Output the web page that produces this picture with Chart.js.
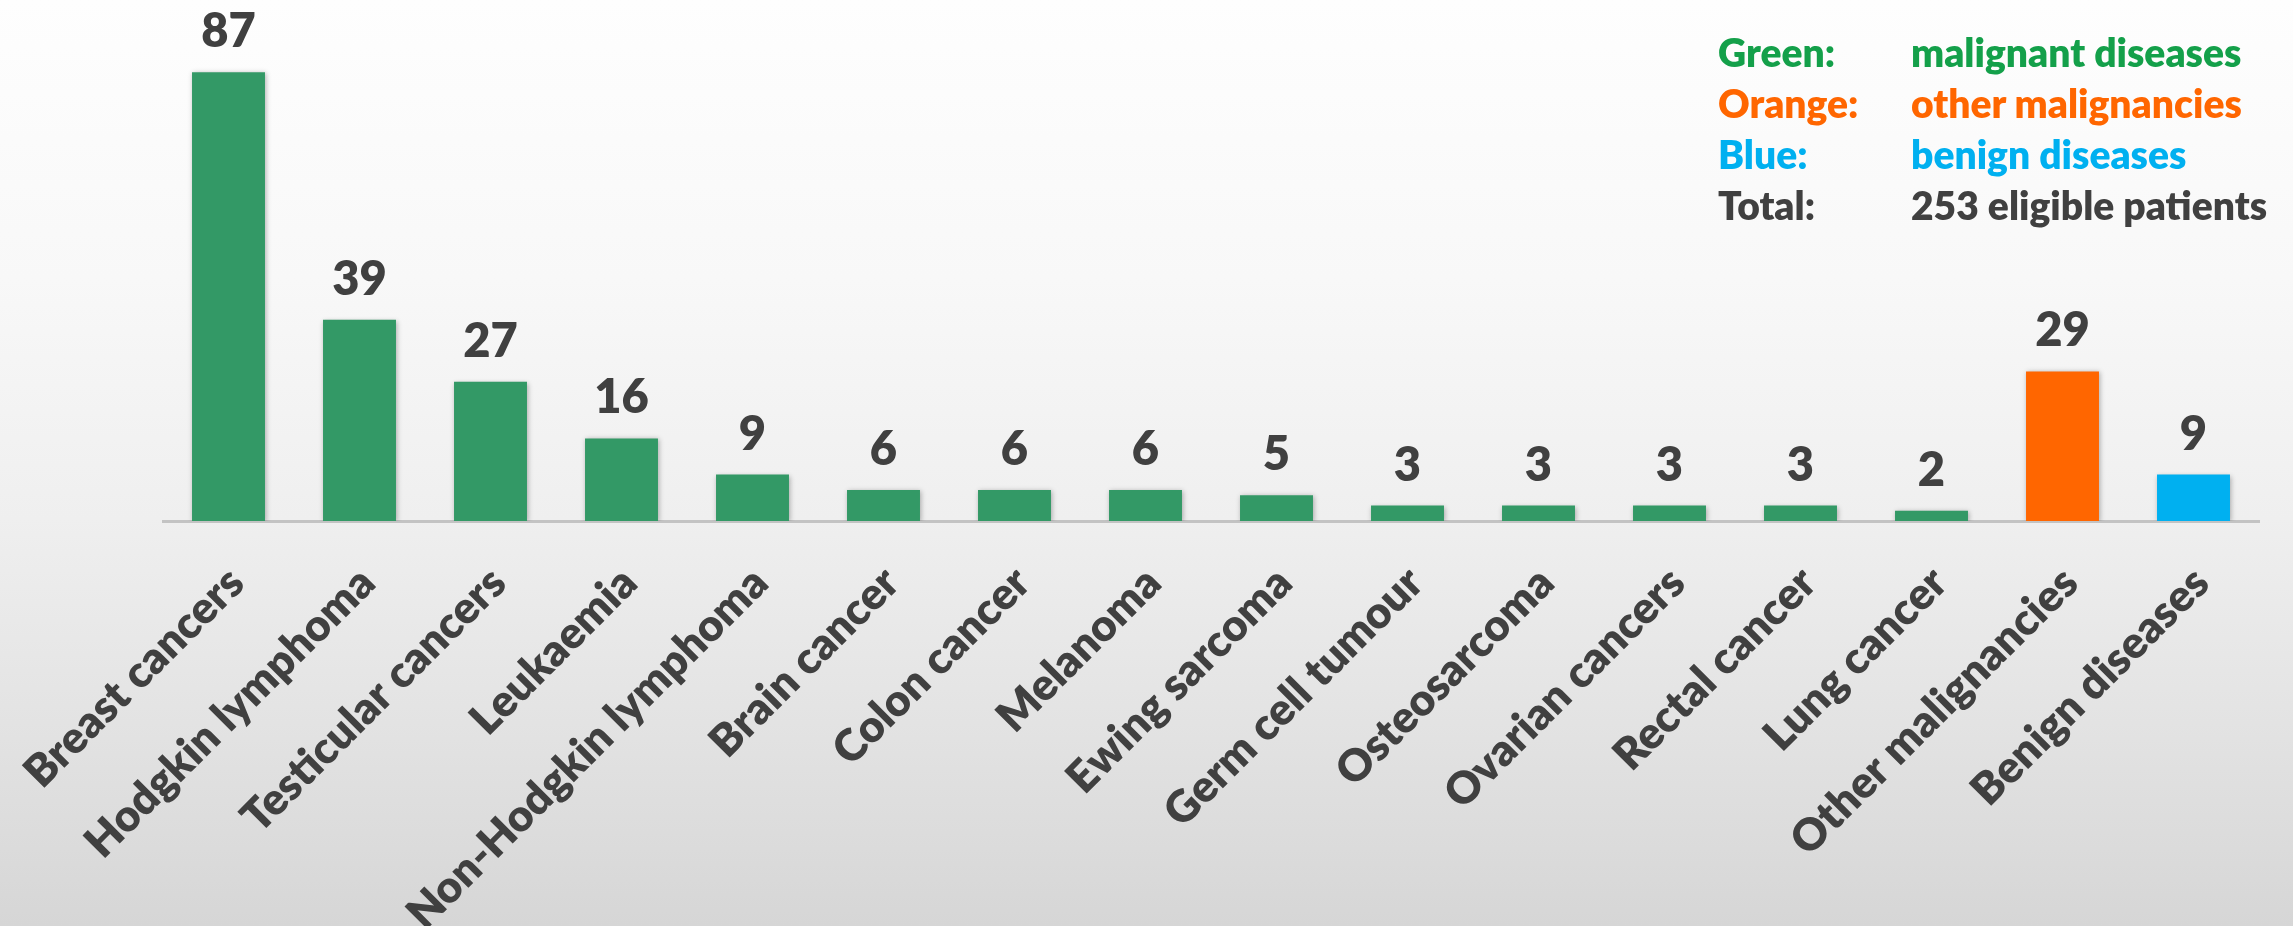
<!DOCTYPE html>
<html lang="en">
<head>
    <meta charset="UTF-8">
    <meta name="viewport" content="width=device-width, initial-scale=1.0">
    <title>Eligible patients by diagnosis</title>
    <script src="https://cdn.jsdelivr.net/npm/chart.js"></script>
    <style>
        html, body { margin: 0; padding: 0; }
        body {
            width: 2293px;
            height: 926px;
            overflow: hidden;
            position: relative;
            font-family: Lato, "Open Sans", sans-serif;
            background: linear-gradient(to bottom, #fefefe 0%, #f8f8f8 30%, #efefef 56%, #e3e3e3 78%, #d6d6d6 100%);
        }
        #chart-container { position: absolute; left: 0; top: 0; width: 2293px; height: 926px; }
        .key { position: absolute; left: 1718px; top: 27px; font-weight: 800; font-size: 39px; line-height: 51px; }
        .key .name { display: inline-block; width: 193px; }
        .green { color: #14a04a; }
        .orange { color: #ff6600; }
        .blue { color: #00b0f0; }
        .total { color: #404040; }
    </style>
</head>
<body>
    <div id="chart-container">
        <canvas id="diagnosisChart" width="2293" height="926"></canvas>
    </div>

    <div class="key">
        <div class="green"><span class="name">Green:</span>malignant diseases</div>
        <div class="orange"><span class="name">Orange:</span>other malignancies</div>
        <div class="blue"><span class="name">Blue:</span>benign diseases</div>
        <div class="total"><span class="name">Total:</span>253 eligible patients</div>
    </div>

    <script>
        // Diagnoses and patient counts
        const categories = [
            "Breast cancers", "Hodgkin lymphoma", "Testicular cancers", "Leukaemia",
            "Non-Hodgkin lymphoma", "Brain cancer", "Colon cancer", "Melanoma",
            "Ewing sarcoma", "Germ cell tumour", "Osteosarcoma", "Ovarian cancers",
            "Rectal cancer", "Lung cancer", "Other malignancies", "Benign diseases"
        ];
        const patients = [87, 39, 27, 16, 9, 6, 6, 6, 5, 3, 3, 3, 3, 2, 29, 9];
        const groups = [
            "malignant", "malignant", "malignant", "malignant", "malignant", "malignant", "malignant",
            "malignant", "malignant", "malignant", "malignant", "malignant", "malignant", "malignant",
            "other", "benign"
        ];

        const groupColours = { malignant: "#339966", other: "#ff6600", benign: "#00b0f0" };
        const textColour = "#404040";

        // soft shadow behind the bars
        const barShadow = {
            id: "barShadow",
            beforeDatasetsDraw(chart) {
                const ctx = chart.ctx;
                ctx.save();
                ctx.shadowColor = "rgba(0, 0, 0, 0.3)";
                ctx.shadowBlur = 5;
                ctx.shadowOffsetX = 1;
                ctx.shadowOffsetY = 1;
            },
            afterDatasetsDraw(chart) {
                chart.ctx.restore();
            }
        };

        // counts written above each bar
        const valueLabels = {
            id: "valueLabels",
            afterDraw(chart) {
                const ctx = chart.ctx;
                const meta = chart.getDatasetMeta(0);
                ctx.save();
                ctx.font = "800 47px Lato";
                ctx.fillStyle = textColour;
                ctx.textAlign = "center";
                ctx.textBaseline = "alphabetic";
                meta.data.forEach((bar, i) => {
                    ctx.fillText(String(patients[i]), bar.x, bar.y - 25);
                });
                ctx.restore();
            }
        };

        const ctx = document.getElementById("diagnosisChart").getContext("2d");
        new Chart(ctx, {
            type: "bar",
            data: {
                labels: categories,
                datasets: [{
                    label: "Patients",
                    data: patients,
                    backgroundColor: groups.map(g => groupColours[g]),
                    barPercentage: 0.557,
                    categoryPercentage: 1.0
                }]
            },
            options: {
                responsive: false,
                animation: false,
                layout: { padding: { left: 163, right: 34, top: 0, bottom: 0 } },
                plugins: {
                    legend: { display: false },
                    tooltip: { enabled: false }
                },
                scales: {
                    x: {
                        grid: { display: false, drawTicks: false },
                        border: { color: "#c3c3c3", width: 3 },
                        ticks: {
                            minRotation: 45,
                            maxRotation: 45,
                            padding: 36,
                            labelOffset: 8,
                            color: textColour,
                            font: { family: "Lato", size: 44, weight: "800" }
                        },
                        afterFit(scale) {
                            scale.height = 405;
                            scale.paddingLeft = 0;
                            scale.paddingRight = 0;
                        }
                    },
                    y: { display: false, min: 0, max: 101 }
                }
            },
            plugins: [barShadow, valueLabels]
        });
    </script>
</body>
</html>
